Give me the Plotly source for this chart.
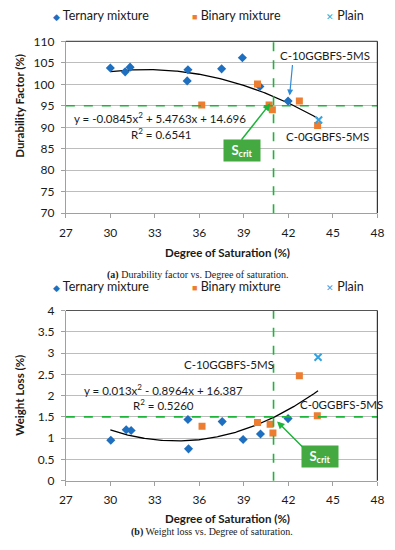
import numpy as np
import plotly.graph_objects as go

W, H = 395, 550

# ---------------- data ----------------
ternary_ds = [30.0, 31.0, 31.33, 35.23, 35.18, 37.5, 38.9, 40.08, 41.98]
ternary_df = [103.8, 102.9, 104.0, 103.4, 100.8, 103.6, 106.2, 99.5, 96.1]
binary_ds = [36.16, 39.92, 40.7, 40.92, 42.74, 43.97]
binary_df = [95.2, 100.1, 95.2, 94.1, 96.1, 90.4]
plain_ds = [44.04]
plain_df = [91.7]

ternary_ds2 = [30.03, 31.07, 31.4, 35.23, 35.27, 37.54, 38.95, 40.12, 41.98]
ternary_wl = [0.95, 1.20, 1.18, 1.44, 0.75, 1.39, 0.97, 1.10, 1.46]
binary_ds2 = [36.18, 39.92, 40.77, 40.96, 42.74, 43.95]
binary_wl = [1.28, 1.37, 1.33, 1.12, 2.47, 1.53]
plain_ds2 = [44.0]
plain_wl = [2.90]

fit_df = [-0.0845, 5.4763, 14.696]
fit_wl = [0.013, -0.8964, 16.387]
fit_range = [30.0, 44.0]

s_crit = 41
df_crit = 95
wl_crit = 1.5

x_ticks = [27, 30, 33, 36, 39, 42, 45, 48]

# ---------------- styles ----------------
BLUE = "#1F6FC0"
ORANGE = "#ED7D31"
PLAIN = "#35A3E0"
GREEN = "#1DB43A"
BOXG = "#43A940"
GRID = "#BDBDBD"
FONT = "Lato"
TXT = "#1a1a1a"
FS = 11.5


def px(x):
    return x / W


def py(y):
    return 1 - y / H


fig = go.Figure()

xs_fit = np.linspace(fit_range[0], fit_range[1], 200)

for (ax, ay), td, tv, bd, bv, pd_, pv, fit in [
    (("x", "y"), ternary_ds, ternary_df, binary_ds, binary_df, plain_ds, plain_df, fit_df),
    (("x2", "y2"), ternary_ds2, ternary_wl, binary_ds2, binary_wl, plain_ds2, plain_wl, fit_wl),
]:
    fig.add_trace(go.Scatter(x=xs_fit, y=np.polyval(fit, xs_fit), mode="lines",
                             line=dict(color="black", width=1.3), xaxis=ax, yaxis=ay,
                             showlegend=False, hoverinfo="skip"))
    fig.add_trace(go.Scatter(x=td, y=tv, mode="markers", name="Ternary mixture",
                             marker=dict(symbol="diamond", size=7, color=BLUE),
                             xaxis=ax, yaxis=ay, showlegend=False))
    fig.add_trace(go.Scatter(x=bd, y=bv, mode="markers", name="Binary mixture",
                             marker=dict(symbol="square", size=7, color=ORANGE),
                             xaxis=ax, yaxis=ay, showlegend=False))
    fig.add_trace(go.Scatter(x=pd_, y=pv, mode="markers", name="Plain",
                             marker=dict(symbol="x-thin", size=7, color=PLAIN,
                                         line=dict(color=PLAIN, width=2)),
                             xaxis=ax, yaxis=ay, showlegend=False))

xd = [61 / W, 384 / W]
axis_common = dict(showline=True, linecolor="#A0A0A0", linewidth=1, ticks="outside",
                   ticklen=4, tickcolor="#A0A0A0", zeroline=False,
                   tickfont=dict(family=FONT, size=12, color=TXT))

fig.update_layout(
    width=W, height=H, margin=dict(l=0, r=0, t=0, b=0),
    paper_bgcolor="white", plot_bgcolor="white", showlegend=False,
    xaxis=dict(domain=xd, range=[27, 48], tickvals=x_ticks, showgrid=False, anchor="y",
               ticklabelstandoff=4, ticklabeloverflow="allow", **axis_common),
    yaxis=dict(domain=[py(211), py(34.3)], range=[70, 110], dtick=5, showgrid=True,
               gridcolor=GRID, gridwidth=1.3, anchor="x", ticklabelstandoff=4, **axis_common),
    xaxis2=dict(domain=xd, range=[27, 48], tickvals=x_ticks, showgrid=False, anchor="y2",
                ticklabelstandoff=4, ticklabeloverflow="allow", **axis_common),
    yaxis2=dict(domain=[py(486), py(311)], range=[0, 4], dtick=0.5, showgrid=True,
                gridcolor=GRID, gridwidth=1.3, anchor="x2", ticklabelstandoff=4, **axis_common),
)

shapes = []
for xr, yr, crit in [("x", "y", df_crit), ("x2", "y2", wl_crit)]:
    dom = xr + " domain"
    ydom = yr + " domain"
    shapes.append(dict(type="line", xref=xr, yref=ydom, x0=s_crit, x1=s_crit, y0=0, y1=1,
                       line=dict(color=GREEN, width=1.6, dash="dash")))
    shapes.append(dict(type="line", xref=dom, yref=yr, x0=0, x1=1, y0=crit, y1=crit,
                       line=dict(color=GREEN, width=1.6, dash="dash")))
    shapes.append(dict(type="line", xref=dom, yref=ydom, x0=0, x1=1, y0=1, y1=1,
                       line=dict(color="#555555", width=1.2)))
    shapes.append(dict(type="line", xref=dom, yref=ydom, x0=1, x1=1, y0=0, y1=1,
                       line=dict(color="#333333", width=1.2)))
fig.update_layout(shapes=shapes)

ann = []


def text(x, y, s, size=FS, bold=False, family=FONT, xanchor="center", color=TXT, angle=0):
    ann.append(dict(x=px(x), y=py(y), xref="paper", yref="paper", text=s, showarrow=False,
                    xanchor=xanchor, yanchor="middle", textangle=angle,
                    font=dict(family=family, size=size, color=color,
                              weight="bold" if bold else "normal")))


# legends
for ly in (8, 286):
    text(46, ly, '<span style="color:%s;font-size:9px">◆</span> Ternary mixture' % BLUE, xanchor="left", size=12.5)
    text(190, ly, '<span style="color:%s;font-size:9px">■</span> Binary mixture' % ORANGE, xanchor="left", size=12.5)
    text(329, ly, '<span style="color:%s;font-size:9px">✕</span> Plain' % PLAIN, xanchor="left", size=12.5)

# axis titles
text(229, 251, "Degree of Saturation (%)", size=11.5, bold=True)
text(229, 525, "Degree of Saturation (%)", size=11.5, bold=True)
text(13, 101, "Durability Factor (%)", size=11.5, bold=True, angle=-90)
text(13, 398, "Weight Loss (%)", size=11.5, bold=True, angle=-90)

# captions
text(198, 274, "<b>(a)</b> Durability factor vs. Degree of saturation.", size=10,
     family="Liberation Serif")
text(213, 539, "<b>(b)</b> Weight loss vs. Degree of saturation.", size=10,
     family="Liberation Serif")

# equations
text(159, 113, "y = -0.0845x<sup>2</sup> + 5.4763x + 14.696", size=FS)
text(160, 129, "R<sup>2</sup> = 0.6541", size=FS)
text(162, 392, "y = 0.013x<sup>2</sup> - 0.8964x + 16.387", size=FS)
text(162, 408, "R<sup>2</sup> = 0.5260", size=FS)

# mix labels
text(330, 49, "C-10GGBFS-5MS", size=FS)
text(332, 132, "C-0GGBFS-5MS", size=FS)
text(230, 367, "C-10GGBFS-5MS", size=FS)
text(347, 408, "C-0GGBFS-5MS", size=FS)

# S_crit boxes
for cx, cy in [(244, 146), (325, 461)]:
    ann.append(dict(x=px(cx), y=py(cy), xref="paper", yref="paper",
                    text="<b>S<sub>crit</sub></b>", showarrow=False,
                    font=dict(family=FONT, size=13, color="white"),
                    bgcolor=BOXG, width=34, height=19, borderpad=1,
                    xanchor="center", yanchor="middle"))

# arrows
ann.append(dict(x=px(273), y=py(98), xref="paper", yref="paper", ax=-30, ay=38,
                text="", showarrow=True, arrowhead=2, arrowsize=1, arrowwidth=1.5,
                arrowcolor=GREEN))
ann.append(dict(x=px(280), y=py(425), xref="paper", yref="paper", ax=27, ay=27,
                text="", showarrow=True, arrowhead=2, arrowsize=1, arrowwidth=1.5,
                arrowcolor=GREEN))
ann.append(dict(x=px(293), y=py(90), xref="paper", yref="paper", ax=3, ay=-32,
                text="", showarrow=True, arrowhead=2, arrowsize=1, arrowwidth=1.2,
                arrowcolor="#2E8BD8"))

fig.update_layout(annotations=ann)
fig.write_html("out.html", config={"displayModeBar": False},
               post_script="document.body.style.margin='0';document.body.style.overflow='hidden';")
